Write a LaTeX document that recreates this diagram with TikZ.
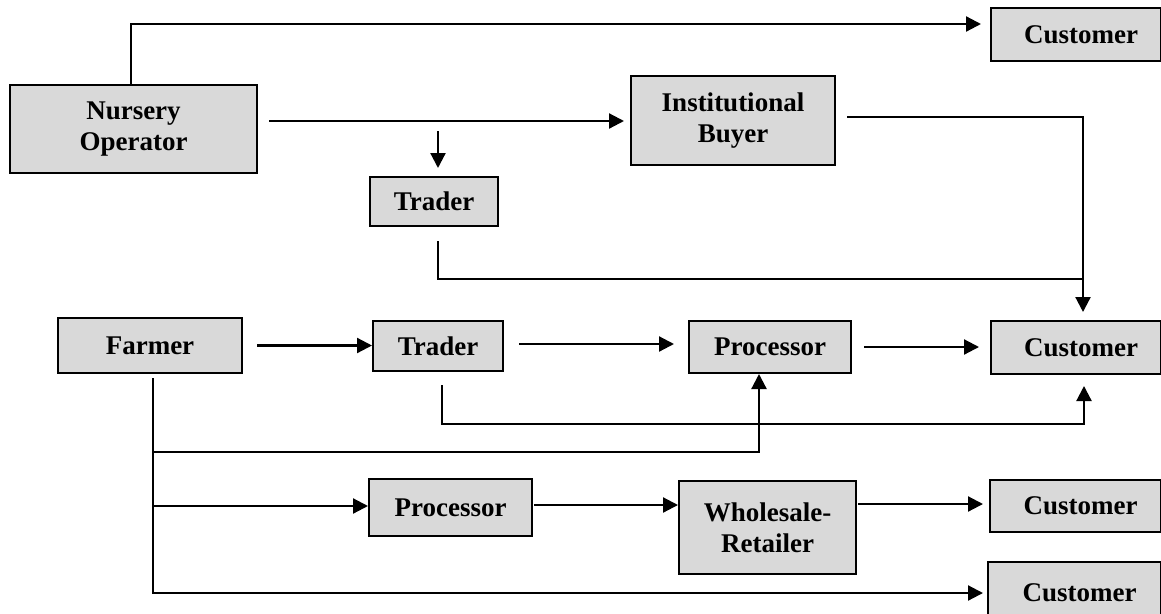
\documentclass[tikz,border=0pt]{standalone}
\usepackage{fontspec}
\setmainfont{Liberation Serif}
\usetikzlibrary{arrows.meta}
\definecolor{boxgray}{RGB}{217,217,217}
\begin{document}
\begin{tikzpicture}[x=1pt,y=-1pt,
  box/.style={draw=black, line width=2pt, fill=boxgray, inner sep=0pt, align=center,
    font=\fontsize{27}{31}\selectfont\bfseries},
  conn/.style={line width=2.2pt},
  arr/.style={line width=2.2pt, -{Triangle[length=15pt,width=15pt]}}]
\useasboundingbox (0,0) rectangle (1161,613);
\fill[white] (0,0) rectangle (1161,613);

% nodes
\node[box, minimum width=247pt, minimum height=88pt] (nur) at (133.5,129) {Nursery\\Operator};
\node[box, minimum width=170pt, minimum height=53pt] (cust1) at (1076,34.5) {\hspace*{10pt}Customer};
\node[box, minimum width=204pt, minimum height=89pt] (inst) at (733,120.5) {Institutional\\Buyer};
\node[box, minimum width=128pt, minimum height=49pt] (tr1) at (434,201.5) {Trader};
\node[box, minimum width=184pt, minimum height=55pt] (farmer) at (150,345.5) {Farmer};
\node[box, minimum width=130pt, minimum height=50pt] (tr2) at (438,346) {Trader};
\node[box, minimum width=162pt, minimum height=52pt] (proc1) at (770,347) {Processor};
\node[box, minimum width=170pt, minimum height=53pt] (cust2) at (1076,347.5) {\hspace*{10pt}Customer};
\node[box, minimum width=163pt, minimum height=57pt] (proc2) at (450.5,507.5) {Processor};
\node[box, minimum width=177pt, minimum height=93pt] (ws) at (767.5,527.5) {Wholesale-\\Retailer};
\node[box, minimum width=171pt, minimum height=52pt] (cust3) at (1075.5,506) {\hspace*{10pt}Customer};
\node[box, minimum width=173pt, minimum height=62pt] (cust4) at (1074.5,593) {\hspace*{10pt}Customer};

% helper coordinates
\coordinate (a1) at ([yshift=8pt]nur.east);
\coordinate (d1) at (438,131);
\coordinate (m1) at (1083,279);
\coordinate (f1) at (153,452);
\coordinate (f2) at (153,506);
\coordinate (p2) at ([yshift=2.5pt]proc2.east);
\coordinate (w1) at ([yshift=23.5pt]ws.east);

% connectors
\draw[arr, shorten >=9pt] ([xshift=-2.5pt]nur.north) |- ([yshift=10.5pt]cust1.west);
\draw[arr, shorten <=11pt, shorten >=6pt] (a1) -- (a1 -| inst.west);
\draw[arr, shorten >=8pt] (d1) -- (d1 |- tr1.north);
\draw[arr, shorten <=11pt, shorten >=8pt] ([yshift=3.5pt]inst.east) -| ([xshift=7pt]cust2.north);
\draw[conn, shorten <=14pt] ([xshift=4pt]tr1.south) |- (m1);
\draw[arr, shorten <=14pt] (farmer.east) -- (farmer.east -| tr2.west);
\draw[arr, shorten <=15pt, shorten >=14pt] ([yshift=2pt]tr2.east) -- ([yshift=2pt]tr2.east -| proc1.west);
\draw[arr, shorten <=12pt, shorten >=11pt] (proc1.east) -- (proc1.east -| cust2.west);
\draw[arr, shorten <=13pt, shorten >=11pt] ([xshift=4pt]tr2.south) -- ++(0,52) -| ([xshift=8pt]cust2.south);
\draw[arr, shorten <=4pt, shorten >=4pt] ([xshift=3pt]farmer.south) |- ([yshift=0pt]cust4.west);
\draw[arr] (f1) -| ([xshift=-11pt]proc1.south);
\draw[arr] (f2) -- (f2 -| proc2.west);
\draw[arr, shorten <=1pt] (p2) -- (p2 -| ws.west);
\draw[arr, shorten <=1pt, shorten >=6pt] (w1) -- (w1 -| cust3.west);
\end{tikzpicture}
\end{document}
